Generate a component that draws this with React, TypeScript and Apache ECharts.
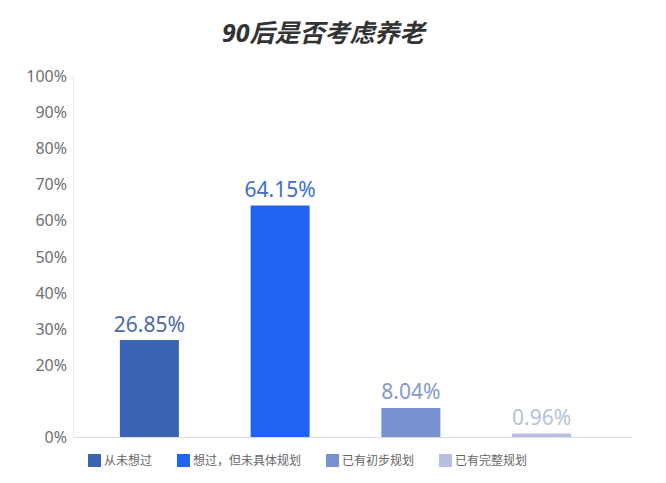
import React, { useEffect, useRef } from 'react';
import * as echarts from 'echarts';

const categories = ['从未想过', '想过，但未具体规划', '已有初步规划', '已有完整规划'];
const values = [26.85, 64.15, 8.04, 0.96];
const barColors = ['#3b64b4', '#2065f2', '#7891d0', '#b6bfe2'];
const labelColors = ['#4d6aa8', '#3d6ecf', '#8399cf', '#b8c0de'];
const yTicks = { min: 0, max: 100, step: 10 };

const FONT = '"Noto Sans", "Noto Sans CJK SC", sans-serif';

const App: React.FC = () => {
  const chartRef = useRef<HTMLDivElement | null>(null);

  useEffect(() => {
    if (!chartRef.current) return;
    document.body.style.margin = '0';

    const chart = echarts.init(chartRef.current, undefined, { renderer: 'svg' });

    // one series per category so the legend lists them
    const series = categories.map((name, i) => ({
      name,
      type: 'bar',
      stack: 'all',
      barWidth: 59,
      data: categories.map((_, j) => (j === i ? values[i] : '-')),
      itemStyle: { color: barColors[i] },
      label: {
        show: true,
        position: 'top',
        distance: 6,
        fontSize: 21,
        fontFamily: FONT,
        color: labelColors[i],
        formatter: (p: any) => `${p.value}%`,
      },
    }));

    chart.setOption({
      animation: false,
      textStyle: { fontFamily: FONT },
      title: {
        text: '90后是否考虑养老',
        left: 217,
        top: 14,
        textStyle: {
          fontSize: 25,
          fontWeight: 'bold',
          fontStyle: 'italic',
          color: '#333',
          fontFamily: FONT,
        },
      },
      legend: {
        data: categories,
        left: 83,
        top: 449,
        icon: 'rect',
        itemWidth: 13,
        itemHeight: 13,
        itemGap: 25,
        textStyle: { fontSize: 12, color: '#666', fontFamily: FONT, padding: [0, 0, 0, -2] },
      },
      grid: { left: 84, right: 59, top: 76, bottom: 46 },
      xAxis: {
        type: 'category',
        data: categories,
        axisLine: { show: false },
        axisTick: { show: false },
        axisLabel: { show: false },
      },
      yAxis: {
        type: 'value',
        min: yTicks.min,
        max: yTicks.max,
        interval: yTicks.step,
        offset: 11,
        axisLine: { show: true, lineStyle: { color: '#ececec' } },
        axisTick: { show: false },
        splitLine: { show: false },
        axisLabel: {
          fontSize: 16,
          color: '#707070',
          margin: 6,
          fontFamily: FONT,
          formatter: (v: number) => (v === 10 ? '' : `${v}%`),
        },
      },
      graphic: [
        {
          type: 'line',
          shape: { x1: 73, y1: 437.5, x2: 632, y2: 437.5 },
          style: { stroke: '#dcdcdc', lineWidth: 1 },
          silent: true,
        },
      ],
      series,
    });

    return () => {
      chart.dispose();
    };
  }, []);

  return <div ref={chartRef} style={{ width: '666px', height: '483px' }} />;
};

export default App;
